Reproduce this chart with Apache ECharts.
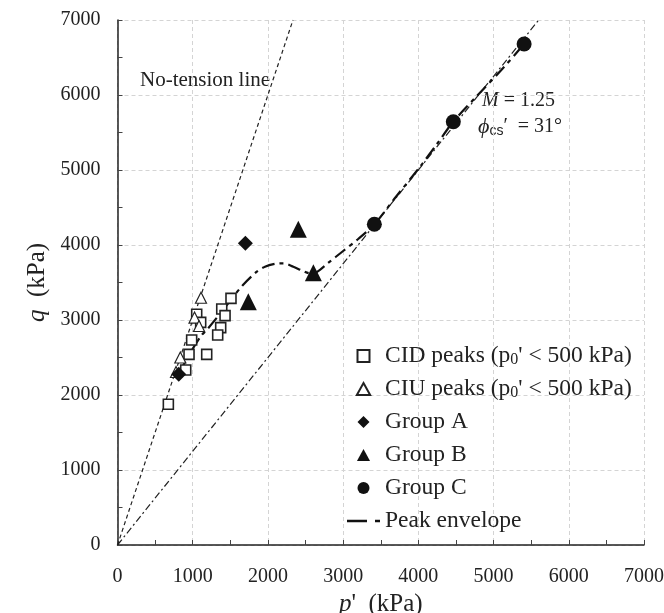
<!DOCTYPE html>
<html>
<head>
<meta charset="utf-8">
<script src="https://cdn.jsdelivr.net/npm/echarts@6/dist/echarts.min.js"></script>
<style>html,body{margin:0;padding:0;background:#fff}#c{width:664px;height:613px}</style>
</head>
<body>
<div id="c"></div>
<script>
// ---- data (p', q) in kPa ----
var cidPeaks = [[1509,3289],[1386,3147],[1430,3058],[1372,2898],[1332,2800],[1053,3076],[1106,2969],[986,2733],[951,2542],[1186,2542],[907,2333],[676,1876]];
var ciuPeaks = [[1110,3297],[1024,3033],[1084,2920],[835,2500],[778,2307]];
var groupA = [[1700,4023],[814,2276]];
var groupB = [[2404,4209],[2604,3631],[1739,3244]];
var groupC = [[3415,4276],[4465,5644],[5406,6680]];
var peakEnvelope = [[820,2290],[964,2556],[1120,2800],[1186,2867],[1386,3111],[1500,3260],[1668,3467],[1851,3644],[1961,3711],[2100,3750],[2205,3756],[2338,3711],[2450,3660],[2560,3622],[2650,3640],[2800,3760],[3000,3920],[3200,4080],[3415,4276],[3700,4640],[4023,5044],[4250,5350],[4465,5644],[4800,6010],[5100,6330],[5406,6680],[5480,6780]];
var noTensionLine = [[0,0],[2333.3,7000]];
var cslLine = [[0,0],[5600,7000]];
var xTicks = [0,1000,2000,3000,4000,5000,6000,7000];
var yTicks = [0,1000,2000,3000,4000,5000,6000,7000];

var FONT = '"Liberation Serif","DejaVu Serif",serif';
var chart = echarts.init(document.getElementById('c'), null, {renderer:'canvas'});
var axisCommon = {
  min: 0, max: 7000, interval: 1000,
  axisLine: {show:true, onZero:false, lineStyle:{color:'#222', width:1.5}},
  axisTick: {show:true, inside:true, length:5, lineStyle:{color:'#444', width:1}},
  minorTick: {show:true, splitNumber:2, length:5, lineStyle:{color:'#444', width:1}},
  splitLine: {show:true, lineStyle:{color:'#d4d4d4', type:[4,3], width:1}},
  axisLabel: {color:'#222', fontFamily:FONT, fontSize:20},
  nameTextStyle: {color:'#222', fontFamily:FONT, fontSize:25,
    rich:{i:{fontStyle:'italic', fontFamily:FONT, fontSize:25, color:'#222'}}}
};
var option = {
  animation:false,
  backgroundColor:'#fff',
  grid:{left:117.5, right:20, top:20, bottom:68, containLabel:false, outerBoundsMode:'none'},
  xAxis: Object.assign({}, axisCommon, {
    type:'value', name:'{i|p}\'  (kPa)', nameLocation:'middle', nameGap:40,
    axisLabel: Object.assign({}, axisCommon.axisLabel, {margin:22, formatter:function(v){return xTicks.indexOf(v)>=0?String(v):'';}})
  }),
  yAxis: Object.assign({}, axisCommon, {
    type:'value', name:'{i|q}  (kPa)', nameLocation:'middle', nameGap:62, nameRotate:90,
    axisLabel: Object.assign({}, axisCommon.axisLabel, {margin:17, formatter:function(v){return yTicks.indexOf(v)>=0?String(v):'';}})
  }),
  legend:{
    orient:'vertical', left:342, top:339, itemWidth:33, itemHeight:12, itemGap:9,
    symbolKeepAspect:true,
    textStyle:{fontFamily:FONT, fontSize:23.5, lineHeight:24, color:'#222', padding:[0,0,0,0],
      rich:{s:{fontFamily:FONT, fontSize:16, color:'#222', verticalAlign:'bottom', padding:[8,0,0,0]}}},
    formatter:function(n){
      if(n.indexOf('p0')>=0){ return n.replace('p0','p{s|0}'); }
      return n;
    },
    data:[
      {name:'CID peaks (p0\' < 500 kPa)', icon:'path://M0,0h10v10h-10z', symbolKeepAspect:true},
      {name:'CIU peaks (p0\' < 500 kPa)', icon:'path://M5,0L10,9L0,9z', symbolKeepAspect:true},
      {name:'Group A', icon:'path://M6,0L12,6L6,12L0,6z', symbolKeepAspect:true},
      {name:'Group B', icon:'path://M6,0L12,11L0,11z', symbolKeepAspect:true},
      {name:'Group C', icon:'path://M12,6A6,6,0,1,1,0,6A6,6,0,1,1,12,6z', symbolKeepAspect:true},
      {name:'Peak envelope', icon:'path://M0,0h20v2.6h-20zM28,0h5v2.6h-5z', symbolKeepAspect:true}
    ]
  },
  series:[
    {name:'No-tension', type:'line', data:noTensionLine, symbol:'none', z:1,
      lineStyle:{color:'#222', width:1.2, type:[4,3]}},
    {name:'CSL', type:'line', data:cslLine, symbol:'none', z:1,
      lineStyle:{color:'#222', width:1.2, type:[7,3,2,3]}},
    {name:'Peak envelope', type:'line', data:peakEnvelope, symbol:'none', smooth:0.3, z:2,
      lineStyle:{color:'#111', width:2.2, type:[13,5,4,5]}, itemStyle:{color:'#111'}},
    {name:'CID peaks (p0\' < 500 kPa)', type:'scatter', data:cidPeaks, symbol:'rect', symbolSize:10, z:3,
      itemStyle:{color:'#fff', borderColor:'#222', borderWidth:1.6, opacity:1}},
    {name:'CIU peaks (p0\' < 500 kPa)', type:'scatter', data:ciuPeaks, symbol:'triangle', symbolSize:11, z:3,
      itemStyle:{color:'#fff', borderColor:'#222', borderWidth:1.2, opacity:1}},
    {name:'Group A', type:'scatter', data:groupA, symbol:'diamond', symbolSize:15, z:4,
      itemStyle:{color:'#111', opacity:1}},
    {name:'Group B', type:'scatter', data:groupB, symbol:'triangle', symbolSize:17, z:4,
      itemStyle:{color:'#111', opacity:1}},
    {name:'Group C', type:'scatter', data:groupC, symbol:'circle', symbolSize:15, z:4,
      itemStyle:{color:'#111', opacity:1}}
  ],
  graphic:[
    {type:'text', left:140, top:70, style:{text:'No-tension line', font:'21px '+FONT, fill:'#222'}},
    {type:'text', left:482, top:91, style:{
      text:'{i|M} = 1.25', font:'20px '+FONT, fill:'#222',
      rich:{i:{fontStyle:'italic', fontSize:20, fontFamily:FONT, fill:'#222'}}}},
    {type:'text', left:478, top:116, style:{
      text:'{i|ϕ}{s|cs}′  = 31°', font:'20px '+FONT, fill:'#222',
      rich:{i:{fontStyle:'italic', fontSize:22, fontFamily:FONT, fill:'#222'},
            s:{fontSize:14, fontFamily:'"Liberation Sans",sans-serif', fill:'#222', verticalAlign:'bottom', padding:[9,0,0,0]}}}}
  ]
};
chart.setOption(option);
</script>
</body>
</html>
